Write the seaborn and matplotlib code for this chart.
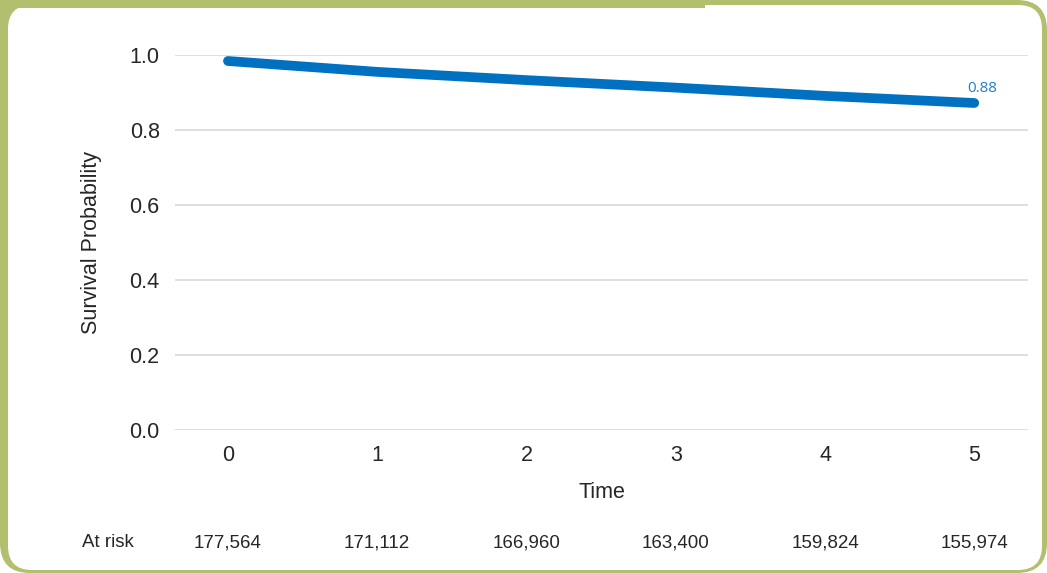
import matplotlib
matplotlib.use("Agg")
import matplotlib.pyplot as plt
import matplotlib.transforms as mtransforms
from matplotlib.patches import FancyBboxPatch, Rectangle
import pandas as pd
import seaborn as sns

# data
time = [0, 1, 2, 3, 4, 5]
survival = [0.984, 0.955, 0.933, 0.913, 0.891, 0.872]
end_label = "0.88"
at_risk = [177564, 171112, 166960, 163400, 159824, 155974]

sns.set_style("white")
plt.rcParams["font.family"] = ["Liberation Sans", "DejaVu Sans"]

W, H, DPI = 1047, 573, 100
fig = plt.figure(figsize=(W / DPI, H / DPI), dpi=DPI)

# decorative green frame (pixel coords, y from bottom)
green = "#b1bf6f"
def px_box(x0, y0, x1, y1, r, fc, z):
    # y given from top of image
    p = FancyBboxPatch((x0, H - y1), x1 - x0, y1 - y0,
                       boxstyle=f"round,pad=0,rounding_size={r}",
                       transform=None, fc=fc, ec="none", zorder=z)
    fig.patches.append(p)

px_box(0, 0, W, H, 30, green, 0)
fig.patches.append(Rectangle((0, H - 40), 60, 40, transform=None, fc=green, ec="none", zorder=0))
fig.patches.append(Rectangle((0, H - 60), 40, 60, transform=None, fc=green, ec="none", zorder=0))
px_box(8, 5, W - 5, H - 3, 24, "white", 1)
fig.patches.append(Rectangle((0, H - 8), 705, 8, transform=None, fc=green, ec="none", zorder=2))

ax = fig.add_axes([175 / W, 1 - 430 / H, (1028 - 175) / W, 375 / H])
ax.set_zorder(3)
ax.patch.set_alpha(0)

df = pd.DataFrame({"Time": time, "Survival": survival})
sns.lineplot(data=df, x="Time", y="Survival", ax=ax, color="#0070c0",
             linewidth=7, solid_capstyle="round", solid_joinstyle="round")

ax.set_xlim(-0.355, 5.36)
ax.set_ylim(0, 1.0)
ax.set_yticks([0, 0.2, 0.4, 0.6, 0.8, 1.0])
ax.set_yticklabels([f"{v:.1f}" for v in [0, 0.2, 0.4, 0.6, 0.8, 1.0]])
ax.set_xticks(time)
ax.grid(axis="y", color="#d9d9d9", linewidth=1.2)
ax.set_axisbelow(True)
for s in ax.spines.values():
    s.set_visible(False)
ax.tick_params(axis="both", length=0, labelsize=15.5, colors="#262626")
ax.tick_params(axis="x", pad=11)
ax.tick_params(axis="y", pad=11)

ax.set_xlabel("Time", fontsize=15.5, color="#262626", labelpad=11)
ax.set_ylabel("Survival Probability", fontsize=15.5, color="#262626", labelpad=20)

ax.annotate(end_label, (time[-1], survival[-1]), xytext=(6, 5),
            textcoords="offset points", ha="center", va="bottom",
            fontsize=11, color="#1f7fc8", family=["Open Sans", "DejaVu Sans"])

# at-risk row under the axis
trans = mtransforms.blended_transform_factory(ax.transData, ax.transAxes)
ax.text(-0.804, -0.301, "At risk", transform=trans, ha="center", va="center",
        fontsize=13.5, color="#262626", clip_on=False)
for t, n in zip(time, at_risk):
    ax.text(t, -0.301, f"{n:,}", transform=trans, ha="center", va="center",
            fontsize=13.5, color="#262626", clip_on=False)

fig.savefig("out.png", dpi=DPI)
